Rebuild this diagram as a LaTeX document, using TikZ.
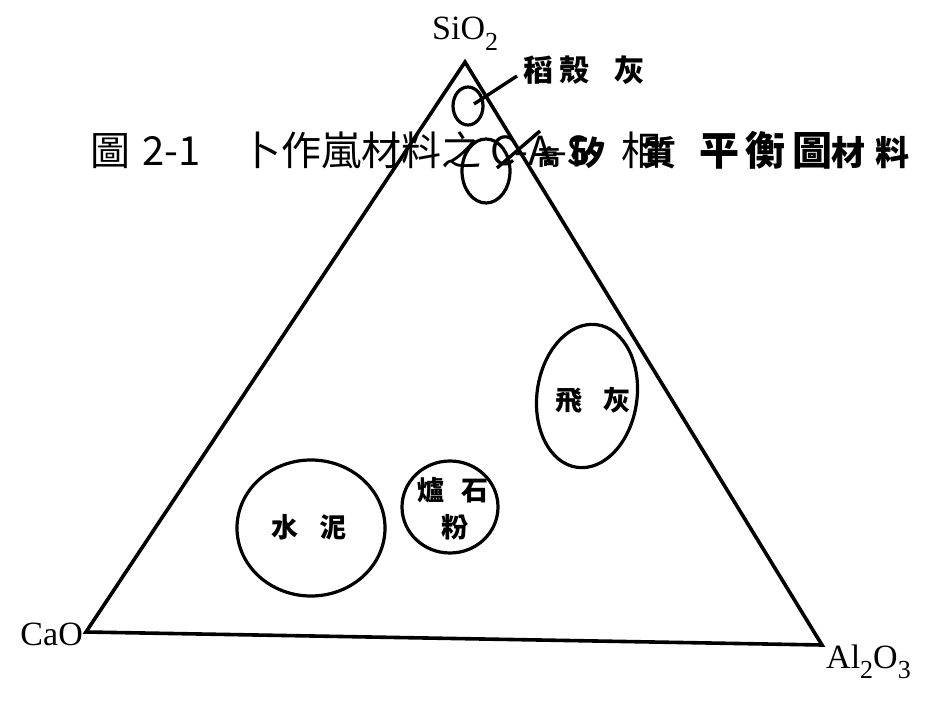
\documentclass[tikz,border=0pt]{standalone}
\usepackage{fontspec}
\setmainfont{Liberation Serif}
\newfontfamily\cjk{Noto Sans CJK TC}
\usetikzlibrary{shapes.geometric}
\tikzset{
  edge/.style={line width=3.6pt, line join=miter},
  blob/.style={draw, ellipse, line width=3.2pt, inner sep=0pt},
  lead/.style={line width=3.4pt},
  chem/.style={inner sep=0pt, font=\fontsize{34}{34}\selectfont},
  lbl/.style={inner sep=0pt, font=\cjk\bfseries\fontsize{27}{27}\selectfont},
}
\newcommand{\sbs}[1]{\raisebox{-0.32em}{\fontsize{26}{26}\selectfont #1}}
\begin{document}
\begin{tikzpicture}[x=1pt,y=-1pt]
\useasboundingbox (0,0) rectangle (926,711);
% title and overlapping label
\node[anchor=base west, inner sep=0pt] (title) at (90,166)
  {\cjk\fontsize{40}{40}\selectfont 圖\hspace{12pt}2-1\hspace{41pt}卜作嵐材料之 C-A-S\hspace{32pt}相\hspace{38pt}{\bfseries 平\hspace{6pt}衡\hspace{7pt}圖}};
\node[anchor=base west, inner sep=0pt] (hslbl) at (538,166)
  {\cjk\bfseries\fontsize{34}{34}\selectfont{\fontsize{22}{22}\selectfont 高}\hspace{11pt}矽\hspace{37pt}質\hspace{155pt}材\hspace{10pt}料};
% triangle
\coordinate (top) at (465,62);
\coordinate (left) at (86,632);
\coordinate (right) at (822,645);
\draw[edge] (top) -- (left) -- (right) -- cycle;
\node[chem, anchor=base west] (sio2) at (432,40) {SiO\sbs{2}};
\node[chem, anchor=base east] (cao) at (83,645) {CaO};
\node[chem, anchor=base west] (al2o3) at (826,668) {Al\sbs{2}O\sbs{3}};
% rice husk ash
\node[blob, minimum width=30pt, minimum height=38pt] (rice) at (468,106) {};
\coordinate (ricein) at (474,104);
\coordinate (riceout) at (517,76);
\draw[lead] (ricein) -- (riceout);
\node[lbl, font=\cjk\bfseries\fontsize{30}{30}\selectfont] (ricelbl) at (584,70) {稻\hspace{7pt}殼\hspace{25pt}灰};
% high silica material
\node[blob, minimum width=48pt, minimum height=64pt] (hs) at (486,171) {};
\coordinate (hsin) at (497,168);
\coordinate (hsout) at (540,131);
\draw[lead] (hsin) -- (hsout);
% fly ash
\node[blob, minimum width=100pt, minimum height=144pt, rotate=-8] (fly) at (587,396) {};
\node[lbl] (flylbl) at (593,400) {飛\hspace{22pt}灰};
% cement
\node[blob, minimum width=148pt, minimum height=136pt] (cem) at (311,528) {};
\node[lbl] (cemlbl) at (309,527) {水\hspace{22pt}泥};
% slag
\node[blob, minimum width=96pt, minimum height=92pt] (slag) at (450,507) {};
\node[lbl] (slag1) at (453,490) {爐\hspace{18pt}石};
\node[lbl] (slag2) at (455,527) {粉};
\end{tikzpicture}
\end{document}
